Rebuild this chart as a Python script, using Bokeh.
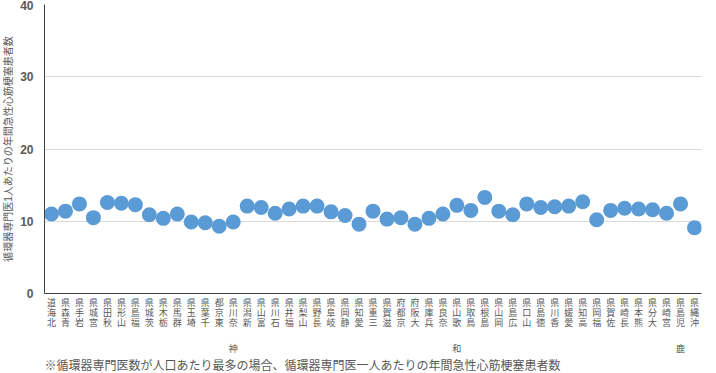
from bokeh.plotting import figure
from bokeh.models import (ColumnDataSource, FactorRange, Range1d, FixedTicker,
                          CategoricalAxis, Title, CustomJSTickFormatter)
from bokeh.embed import file_html
from bokeh.resources import INLINE

prefectures = ["北海道", "青森県", "岩手県", "宮城県", "秋田県", "山形県", "福島県", "茨城県",
               "栃木県", "群馬県", "埼玉県", "千葉県", "東京都", "神奈川県", "新潟県", "富山県",
               "石川県", "福井県", "山梨県", "長野県", "岐阜県", "静岡県", "愛知県", "三重県",
               "滋賀県", "京都府", "大阪府", "兵庫県", "奈良県", "和歌山県", "鳥取県", "島根県",
               "岡山県", "広島県", "山口県", "徳島県", "香川県", "愛媛県", "高知県", "福岡県",
               "佐賀県", "長崎県", "熊本県", "大分県", "宮崎県", "鹿児島県", "沖縄県"]
values = [11.0, 11.4, 12.4, 10.5, 12.6, 12.5, 12.3, 10.9, 10.4, 11.0,
          9.9, 9.8, 9.3, 9.9, 12.1, 11.9, 11.1, 11.7, 12.1, 12.1,
          11.3, 10.8, 9.6, 11.4, 10.3, 10.5, 9.6, 10.4, 11.0, 12.2,
          11.5, 13.3, 11.4, 10.9, 12.4, 11.9, 12.0, 12.1, 12.7, 10.2,
          11.5, 11.8, 11.7, 11.6, 11.1, 12.4, 9.1]
y_ticks = [0, 10, 20, 30, 40]
y_label = "循環器専門医1人あたりの年間急性心筋梗塞患者数"
note = "※循環器専門医数が人口あたり最多の場合、循環器専門医一人あたりの年間急性心筋梗塞患者数"

LABEL_FONT = "Liberation Sans, Noto Sans CJK JP"
GREY = "#595959"

source = ColumnDataSource(dict(pref=prefectures, val=values))

p = figure(width=716, height=373, x_range=FactorRange(*prefectures, range_padding=0),
           y_range=Range1d(0, 40), output_backend="svg", toolbar_location=None,
           min_border_left=44, min_border_right=15, min_border_top=4, min_border_bottom=79)
p.outline_line_color = None
p.background_fill_color = "white"
p.border_fill_color = "white"

p.scatter("pref", "val", source=source, size=15, color="#5B9BD5", line_color=None)

p.xgrid.grid_line_color = None
p.ygrid.grid_line_color = "#d9d9d9"
p.yaxis.ticker = FixedTicker(ticks=y_ticks)

p.yaxis.axis_line_color = "#404040"
p.yaxis.major_tick_line_color = None
p.yaxis.minor_tick_line_color = None
p.yaxis.major_tick_out = 0
p.yaxis.major_tick_in = 0
p.yaxis.major_label_text_font = "Liberation Sans"
p.yaxis.major_label_text_font_style = "bold"
p.yaxis.major_label_text_font_size = "12px"
p.yaxis.major_label_text_color = GREY
p.yaxis.major_label_standoff = 11
p.yaxis.axis_label = y_label
p.yaxis.axis_label_text_font = LABEL_FONT
p.yaxis.axis_label_text_font_style = "normal"
p.yaxis.axis_label_text_font_size = "10px"
p.yaxis.axis_label_text_color = GREY
p.yaxis.axis_label_standoff = 3

CHAR_CODE = """
const c = Array.from(String(tick)).reverse();
return r < c.length ? c[r] : "";
"""


def style_axis(ax, r, standoff):
    ax.major_tick_line_color = None
    ax.minor_tick_line_color = None
    ax.major_tick_out = 0
    ax.major_tick_in = 0
    ax.formatter = CustomJSTickFormatter(args=dict(r=r), code=CHAR_CODE)
    ax.major_label_text_font = LABEL_FONT
    ax.major_label_text_font_size = "9px"
    ax.major_label_text_color = GREY
    ax.major_label_standoff = standoff
    ax.major_label_orientation = "horizontal"


xa = p.xaxis[0]
xa.axis_line_color = "#404040"
style_axis(xa, 0, 4)

for r, standoff in [(1, -3), (2, -3), (3, 13)]:
    ax = CategoricalAxis()
    ax.axis_line_color = None
    style_axis(ax, r, standoff)
    p.add_layout(ax, "below")

p.add_layout(Title(text=note, align="left", text_font=LABEL_FONT, text_font_size="12px",
                   text_font_style="normal", text_color=GREY, offset=0, standoff=1), "below")

open("out.html", "w").write(file_html(p, INLINE))
